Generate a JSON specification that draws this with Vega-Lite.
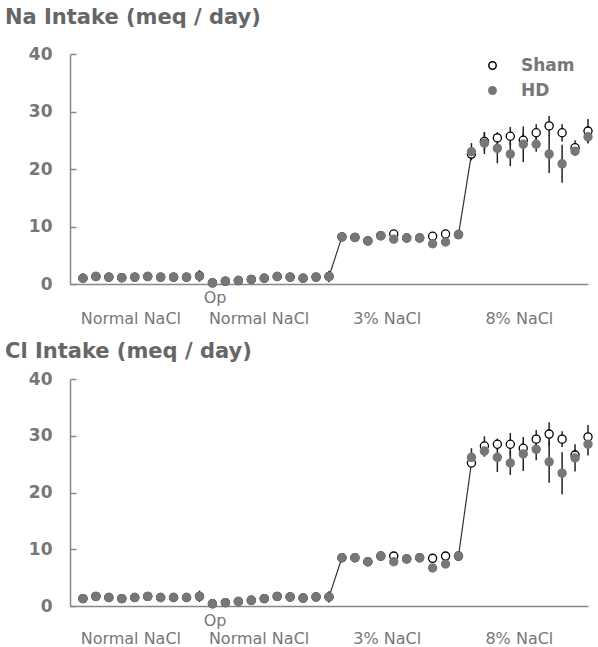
{
  "$schema": "https://vega.github.io/schema/vega-lite/v6.json",
  "padding": {"top": 7, "left": 5, "right": 5, "bottom": 0},
  "background": "white",
  "config": {
    "view": {"stroke": null},
    "font": "DejaVu Sans",
    "axis": {"grid": false, "domainColor": "#888", "domainWidth": 1.5, "tickColor": "#888", "tickWidth": 1.5}
  },
  "datasets": {
    "main": [
      {"p":"Na","g":"Sham","d":1,"v":1.0},{"p":"Na","g":"Sham","d":2,"v":1.3},{"p":"Na","g":"Sham","d":3,"v":1.2},{"p":"Na","g":"Sham","d":4,"v":1.1},{"p":"Na","g":"Sham","d":5,"v":1.2},{"p":"Na","g":"Sham","d":6,"v":1.3},{"p":"Na","g":"Sham","d":7,"v":1.2},{"p":"Na","g":"Sham","d":8,"v":1.2},{"p":"Na","g":"Sham","d":9,"v":1.2},{"p":"Na","g":"Sham","d":10,"v":1.4},
      {"p":"Na","g":"Sham","d":11,"v":0.2},{"p":"Na","g":"Sham","d":12,"v":0.5},{"p":"Na","g":"Sham","d":13,"v":0.6},{"p":"Na","g":"Sham","d":14,"v":0.8},{"p":"Na","g":"Sham","d":15,"v":1.0},{"p":"Na","g":"Sham","d":16,"v":1.3},{"p":"Na","g":"Sham","d":17,"v":1.2},{"p":"Na","g":"Sham","d":18,"v":1.0},{"p":"Na","g":"Sham","d":19,"v":1.2},{"p":"Na","g":"Sham","d":20,"v":1.3},
      {"p":"Na","g":"Sham","d":21,"v":8.2},{"p":"Na","g":"Sham","d":22,"v":8.1},{"p":"Na","g":"Sham","d":23,"v":7.5},{"p":"Na","g":"Sham","d":24,"v":8.4},{"p":"Na","g":"Sham","d":25,"v":8.7},{"p":"Na","g":"Sham","d":26,"v":8.0},{"p":"Na","g":"Sham","d":27,"v":8.0},{"p":"Na","g":"Sham","d":28,"v":8.3},{"p":"Na","g":"Sham","d":29,"v":8.7},{"p":"Na","g":"Sham","d":30,"v":8.6},
      {"p":"Na","g":"Sham","d":31,"v":22.6},{"p":"Na","g":"Sham","d":32,"v":24.8},{"p":"Na","g":"Sham","d":33,"v":25.4},{"p":"Na","g":"Sham","d":34,"v":25.7},{"p":"Na","g":"Sham","d":35,"v":25.0},{"p":"Na","g":"Sham","d":36,"v":26.3},{"p":"Na","g":"Sham","d":37,"v":27.5},{"p":"Na","g":"Sham","d":38,"v":26.3},{"p":"Na","g":"Sham","d":39,"v":23.7},{"p":"Na","g":"Sham","d":40,"v":26.6},
      {"p":"Na","g":"HD","d":1,"v":1.0},{"p":"Na","g":"HD","d":2,"v":1.3},{"p":"Na","g":"HD","d":3,"v":1.2},{"p":"Na","g":"HD","d":4,"v":1.1},{"p":"Na","g":"HD","d":5,"v":1.2},{"p":"Na","g":"HD","d":6,"v":1.3},{"p":"Na","g":"HD","d":7,"v":1.2},{"p":"Na","g":"HD","d":8,"v":1.2},{"p":"Na","g":"HD","d":9,"v":1.2},{"p":"Na","g":"HD","d":10,"v":1.4},
      {"p":"Na","g":"HD","d":11,"v":0.2},{"p":"Na","g":"HD","d":12,"v":0.5},{"p":"Na","g":"HD","d":13,"v":0.6},{"p":"Na","g":"HD","d":14,"v":0.8},{"p":"Na","g":"HD","d":15,"v":1.0},{"p":"Na","g":"HD","d":16,"v":1.3},{"p":"Na","g":"HD","d":17,"v":1.2},{"p":"Na","g":"HD","d":18,"v":1.0},{"p":"Na","g":"HD","d":19,"v":1.2},{"p":"Na","g":"HD","d":20,"v":1.3},
      {"p":"Na","g":"HD","d":21,"v":8.2},{"p":"Na","g":"HD","d":22,"v":8.1},{"p":"Na","g":"HD","d":23,"v":7.5},{"p":"Na","g":"HD","d":24,"v":8.4},{"p":"Na","g":"HD","d":25,"v":7.8},{"p":"Na","g":"HD","d":26,"v":8.0},{"p":"Na","g":"HD","d":27,"v":8.0},{"p":"Na","g":"HD","d":28,"v":7.0},{"p":"Na","g":"HD","d":29,"v":7.3},{"p":"Na","g":"HD","d":30,"v":8.6},
      {"p":"Na","g":"HD","d":31,"v":23.0},{"p":"Na","g":"HD","d":32,"v":24.5},{"p":"Na","g":"HD","d":33,"v":23.6},{"p":"Na","g":"HD","d":34,"v":22.6},{"p":"Na","g":"HD","d":35,"v":24.3},{"p":"Na","g":"HD","d":36,"v":24.3},{"p":"Na","g":"HD","d":37,"v":22.6},{"p":"Na","g":"HD","d":38,"v":20.9},{"p":"Na","g":"HD","d":39,"v":23.1},{"p":"Na","g":"HD","d":40,"v":25.6},
      {"p":"Cl","g":"Sham","d":1,"v":1.3},{"p":"Cl","g":"Sham","d":2,"v":1.7},{"p":"Cl","g":"Sham","d":3,"v":1.5},{"p":"Cl","g":"Sham","d":4,"v":1.3},{"p":"Cl","g":"Sham","d":5,"v":1.5},{"p":"Cl","g":"Sham","d":6,"v":1.7},{"p":"Cl","g":"Sham","d":7,"v":1.5},{"p":"Cl","g":"Sham","d":8,"v":1.5},{"p":"Cl","g":"Sham","d":9,"v":1.5},{"p":"Cl","g":"Sham","d":10,"v":1.7},
      {"p":"Cl","g":"Sham","d":11,"v":0.4},{"p":"Cl","g":"Sham","d":12,"v":0.6},{"p":"Cl","g":"Sham","d":13,"v":0.8},{"p":"Cl","g":"Sham","d":14,"v":1.0},{"p":"Cl","g":"Sham","d":15,"v":1.3},{"p":"Cl","g":"Sham","d":16,"v":1.7},{"p":"Cl","g":"Sham","d":17,"v":1.6},{"p":"Cl","g":"Sham","d":18,"v":1.4},{"p":"Cl","g":"Sham","d":19,"v":1.6},{"p":"Cl","g":"Sham","d":20,"v":1.6},
      {"p":"Cl","g":"Sham","d":21,"v":8.5},{"p":"Cl","g":"Sham","d":22,"v":8.5},{"p":"Cl","g":"Sham","d":23,"v":7.8},{"p":"Cl","g":"Sham","d":24,"v":8.8},{"p":"Cl","g":"Sham","d":25,"v":8.8},{"p":"Cl","g":"Sham","d":26,"v":8.3},{"p":"Cl","g":"Sham","d":27,"v":8.5},{"p":"Cl","g":"Sham","d":28,"v":8.4},{"p":"Cl","g":"Sham","d":29,"v":8.8},{"p":"Cl","g":"Sham","d":30,"v":8.8},
      {"p":"Cl","g":"Sham","d":31,"v":25.2},{"p":"Cl","g":"Sham","d":32,"v":28.2},{"p":"Cl","g":"Sham","d":33,"v":28.5},{"p":"Cl","g":"Sham","d":34,"v":28.5},{"p":"Cl","g":"Sham","d":35,"v":27.8},{"p":"Cl","g":"Sham","d":36,"v":29.4},{"p":"Cl","g":"Sham","d":37,"v":30.3},{"p":"Cl","g":"Sham","d":38,"v":29.4},{"p":"Cl","g":"Sham","d":39,"v":26.6},{"p":"Cl","g":"Sham","d":40,"v":29.8},
      {"p":"Cl","g":"HD","d":1,"v":1.3},{"p":"Cl","g":"HD","d":2,"v":1.7},{"p":"Cl","g":"HD","d":3,"v":1.5},{"p":"Cl","g":"HD","d":4,"v":1.3},{"p":"Cl","g":"HD","d":5,"v":1.5},{"p":"Cl","g":"HD","d":6,"v":1.7},{"p":"Cl","g":"HD","d":7,"v":1.5},{"p":"Cl","g":"HD","d":8,"v":1.5},{"p":"Cl","g":"HD","d":9,"v":1.5},{"p":"Cl","g":"HD","d":10,"v":1.7},
      {"p":"Cl","g":"HD","d":11,"v":0.4},{"p":"Cl","g":"HD","d":12,"v":0.6},{"p":"Cl","g":"HD","d":13,"v":0.8},{"p":"Cl","g":"HD","d":14,"v":1.0},{"p":"Cl","g":"HD","d":15,"v":1.3},{"p":"Cl","g":"HD","d":16,"v":1.7},{"p":"Cl","g":"HD","d":17,"v":1.6},{"p":"Cl","g":"HD","d":18,"v":1.4},{"p":"Cl","g":"HD","d":19,"v":1.6},{"p":"Cl","g":"HD","d":20,"v":1.6},
      {"p":"Cl","g":"HD","d":21,"v":8.5},{"p":"Cl","g":"HD","d":22,"v":8.5},{"p":"Cl","g":"HD","d":23,"v":7.8},{"p":"Cl","g":"HD","d":24,"v":8.8},{"p":"Cl","g":"HD","d":25,"v":7.8},{"p":"Cl","g":"HD","d":26,"v":8.3},{"p":"Cl","g":"HD","d":27,"v":8.5},{"p":"Cl","g":"HD","d":28,"v":6.7},{"p":"Cl","g":"HD","d":29,"v":7.4},{"p":"Cl","g":"HD","d":30,"v":8.8},
      {"p":"Cl","g":"HD","d":31,"v":26.2},{"p":"Cl","g":"HD","d":32,"v":27.3},{"p":"Cl","g":"HD","d":33,"v":26.2},{"p":"Cl","g":"HD","d":34,"v":25.2},{"p":"Cl","g":"HD","d":35,"v":26.8},{"p":"Cl","g":"HD","d":36,"v":27.6},{"p":"Cl","g":"HD","d":37,"v":25.4},{"p":"Cl","g":"HD","d":38,"v":23.4},{"p":"Cl","g":"HD","d":39,"v":26.1},{"p":"Cl","g":"HD","d":40,"v":28.5}
    ],
    "err": [
      {"p":"Na","d":10,"lo":0.4,"hi":2.4},{"p":"Na","d":20,"lo":0.3,"hi":2.3},
      {"p":"Na","d":32,"lo":23.2,"hi":26.4},{"p":"Na","d":33,"lo":24.4,"hi":26.4},{"p":"Na","d":34,"lo":24.1,"hi":27.3},{"p":"Na","d":35,"lo":23.7,"hi":26.3},{"p":"Na","d":36,"lo":24.8,"hi":27.8},{"p":"Na","d":37,"lo":25.8,"hi":29.2},{"p":"Na","d":38,"lo":24.8,"hi":27.8},{"p":"Na","d":39,"lo":22.4,"hi":25.0},{"p":"Na","d":40,"lo":24.5,"hi":28.7},
      {"p":"Na","d":31,"lo":21.5,"hi":24.5},{"p":"Na","d":32,"lo":22.6,"hi":26.4},{"p":"Na","d":33,"lo":21.0,"hi":26.2},{"p":"Na","d":34,"lo":20.5,"hi":24.7},{"p":"Na","d":35,"lo":21.2,"hi":27.4},{"p":"Na","d":36,"lo":23.0,"hi":25.6},{"p":"Na","d":37,"lo":19.3,"hi":25.9},{"p":"Na","d":38,"lo":17.6,"hi":24.2},{"p":"Na","d":39,"lo":22.3,"hi":23.9},{"p":"Na","d":40,"lo":24.5,"hi":26.7},
      {"p":"Cl","d":10,"lo":0.7,"hi":2.7},{"p":"Cl","d":20,"lo":0.6,"hi":2.6},
      {"p":"Cl","d":32,"lo":26.5,"hi":29.9},{"p":"Cl","d":33,"lo":27.5,"hi":29.5},{"p":"Cl","d":34,"lo":26.5,"hi":30.5},{"p":"Cl","d":35,"lo":26.7,"hi":28.9},{"p":"Cl","d":36,"lo":27.8,"hi":31.0},{"p":"Cl","d":37,"lo":28.2,"hi":32.4},{"p":"Cl","d":38,"lo":28.0,"hi":30.8},{"p":"Cl","d":39,"lo":25.6,"hi":27.6},{"p":"Cl","d":40,"lo":27.7,"hi":31.9},
      {"p":"Cl","d":31,"lo":24.6,"hi":27.8},{"p":"Cl","d":32,"lo":26.3,"hi":28.3},{"p":"Cl","d":33,"lo":23.6,"hi":28.8},{"p":"Cl","d":34,"lo":23.1,"hi":27.3},{"p":"Cl","d":35,"lo":23.8,"hi":29.8},{"p":"Cl","d":36,"lo":25.7,"hi":29.5},{"p":"Cl","d":37,"lo":21.7,"hi":29.1},{"p":"Cl","d":38,"lo":19.7,"hi":27.1},{"p":"Cl","d":39,"lo":23.7,"hi":28.5},{"p":"Cl","d":40,"lo":26.5,"hi":30.5}
    ],
    "seg": [
      {"p":"Na","s":"a","d":20,"v":1.3},{"p":"Na","s":"a","d":21,"v":8.2},
      {"p":"Na","s":"b","d":30,"v":8.6},{"p":"Na","s":"b","d":31,"v":22.6},
      {"p":"Cl","s":"a","d":20,"v":1.6},{"p":"Cl","s":"a","d":21,"v":8.5},
      {"p":"Cl","s":"b","d":30,"v":8.8},{"p":"Cl","s":"b","d":31,"v":25.2}
    ],
    "phase": [{"d":10},{"d":20},{"d":30}],
    "lab": [
      {"p":"Na","d":11.2,"v":-2.5,"t":"Op"},
      {"p":"Na","d":4.7,"v":-6.0,"t":"Normal NaCl"},
      {"p":"Na","d":14.6,"v":-6.0,"t":"Normal NaCl"},
      {"p":"Na","d":24.5,"v":-6.0,"t":"3% NaCl"},
      {"p":"Na","d":34.7,"v":-6.0,"t":"8% NaCl"},
      {"p":"Cl","d":11.2,"v":-2.7,"t":"Op"},
      {"p":"Cl","d":4.7,"v":-5.9,"t":"Normal NaCl"},
      {"p":"Cl","d":14.6,"v":-5.9,"t":"Normal NaCl"},
      {"p":"Cl","d":24.5,"v":-5.9,"t":"3% NaCl"},
      {"p":"Cl","d":34.7,"v":-5.9,"t":"8% NaCl"}
    ]
  },
  "spacing": 14,
  "resolve": {"legend": {"fill": "independent", "stroke": "independent"}},
  "vconcat": [
    {
      "width": 518, "height": 230,
      "title": {"text": "Na Intake (meq / day)", "anchor": "start", "frame": "group", "dx": -65, "offset": 17, "fontSize": 21, "fontWeight": "bold", "color": "#666", "font": "DejaVu Sans"},
      "encoding": {
        "x": {"field": "d", "type": "quantitative", "scale": {"domain": [0, 40], "nice": false, "zero": false}, "axis": {"labels": false, "ticks": false, "title": null}},
        "y": {"field": "v", "type": "quantitative", "scale": {"domain": [0, 40], "nice": false}, "axis": {"values": [0, 10, 20, 30, 40], "tickSize": -6, "labelPadding": 24, "labelFontSize": 17, "labelFontWeight": "bold", "labelColor": "#777", "labelFont": "DejaVu Sans", "title": null}}
      },
      "layer": [
        {"data": {"name": "phase"}, "mark": {"type": "rule", "strokeDash": [2, 2], "color": "#888", "strokeWidth": 1.6}, "encoding": {"y": {"datum": 0}, "y2": {"datum": 40}}},
        {"data": {"name": "seg"}, "transform": [{"filter": "datum.p == 'Na'"}], "mark": {"type": "line", "color": "#333", "strokeWidth": 1.2}, "encoding": {"detail": {"field": "s"}}},
        {"data": {"name": "err"}, "transform": [{"filter": "datum.p == 'Na'"}], "mark": {"type": "rule", "color": "#222", "strokeWidth": 1.5}, "encoding": {"y": {"field": "lo", "type": "quantitative"}, "y2": {"field": "hi"}}},
        {"data": {"name": "main"}, "transform": [{"filter": "datum.p == 'Na'"}], "mark": {"type": "point", "filled": false, "size": 66, "strokeWidth": 1.3, "opacity": 1},
          "encoding": {
            "fill": {"field": "g", "type": "nominal", "scale": {"domain": ["Sham", "HD"], "range": ["white", "#777"]}, "legend": {"title": null, "orient": "none", "legendX": 414, "legendY": 3, "labelFontSize": 17, "labelFontWeight": "bold", "labelFont": "DejaVu Sans", "labelColor": "#777", "symbolSize": 55, "rowPadding": 7, "labelOffset": 20}},
            "stroke": {"field": "g", "type": "nominal", "scale": {"domain": ["Sham", "HD"], "range": ["black", "#777"]}, "legend": {"title": null, "orient": "none", "legendX": 414, "legendY": 3, "labelFontSize": 17, "labelFontWeight": "bold", "labelFont": "DejaVu Sans", "labelColor": "#777", "symbolSize": 55, "rowPadding": 7, "labelOffset": 20}}
          }},
        {"data": {"name": "lab"}, "transform": [{"filter": "datum.p == 'Na'"}], "mark": {"type": "text", "fontSize": 16, "color": "#777", "font": "DejaVu Sans", "baseline": "middle"}, "encoding": {"text": {"field": "t"}}}
      ]
    },
    {
      "width": 518, "height": 227,
      "title": {"text": "Cl Intake (meq / day)", "anchor": "start", "frame": "group", "dx": -65, "offset": 8, "fontSize": 21, "fontWeight": "bold", "color": "#666", "font": "DejaVu Sans"},
      "encoding": {
        "x": {"field": "d", "type": "quantitative", "scale": {"domain": [0, 40], "nice": false, "zero": false}, "axis": {"labels": false, "ticks": false, "title": null}},
        "y": {"field": "v", "type": "quantitative", "scale": {"domain": [0, 40], "nice": false}, "axis": {"values": [0, 10, 20, 30, 40], "tickSize": -6, "labelPadding": 24, "labelFontSize": 17, "labelFontWeight": "bold", "labelColor": "#777", "labelFont": "DejaVu Sans", "title": null}}
      },
      "layer": [
        {"data": {"name": "phase"}, "mark": {"type": "rule", "strokeDash": [2, 2], "color": "#888", "strokeWidth": 1.6}, "encoding": {"y": {"datum": 0}, "y2": {"datum": 40}}},
        {"data": {"name": "seg"}, "transform": [{"filter": "datum.p == 'Cl'"}], "mark": {"type": "line", "color": "#333", "strokeWidth": 1.2}, "encoding": {"detail": {"field": "s"}}},
        {"data": {"name": "err"}, "transform": [{"filter": "datum.p == 'Cl'"}], "mark": {"type": "rule", "color": "#222", "strokeWidth": 1.5}, "encoding": {"y": {"field": "lo", "type": "quantitative"}, "y2": {"field": "hi"}}},
        {"data": {"name": "main"}, "transform": [{"filter": "datum.p == 'Cl'"}], "mark": {"type": "point", "filled": false, "size": 66, "strokeWidth": 1.3, "opacity": 1},
          "encoding": {
            "fill": {"field": "g", "type": "nominal", "scale": {"domain": ["Sham", "HD"], "range": ["white", "#777"]}, "legend": null},
            "stroke": {"field": "g", "type": "nominal", "scale": {"domain": ["Sham", "HD"], "range": ["black", "#777"]}, "legend": null}
          }},
        {"data": {"name": "lab"}, "transform": [{"filter": "datum.p == 'Cl'"}], "mark": {"type": "text", "fontSize": 16, "color": "#777", "font": "DejaVu Sans", "baseline": "middle"}, "encoding": {"text": {"field": "t"}}}
      ]
    }
  ]
}
